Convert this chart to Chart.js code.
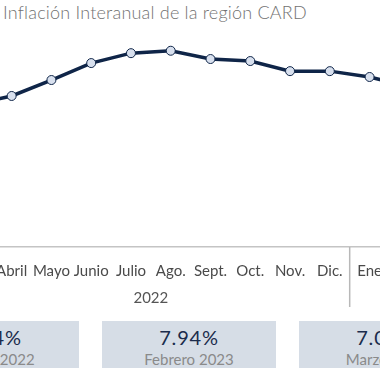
<!DOCTYPE html>
<html>
<head>
<meta charset="utf-8">
<script src="https://cdn.jsdelivr.net/npm/chart.js@4.4.0/dist/chart.umd.min.js"></script>
<style>
    html, body { margin: 0; padding: 0; background: #fff; overflow: hidden; }
    body { width: 380px; height: 380px; position: relative; font-family: 'Lato', sans-serif; }
    #title { position: absolute; left: 3px; top: 1px; font-size: 18px; color: #727272; font-weight: 300; letter-spacing: 0.2px; white-space: nowrap; }
    #wrap { position: absolute; left: -60px; top: 0; width: 560px; height: 320px; }
    .box { position: absolute; top: 321px; height: 47px; width: 174px; background: #d6dde6; text-align: center; }
    .box .val { font-size: 20px; color: #1b2c4c; margin-top: 5px; line-height: 22px; letter-spacing: 0.8px; }
    .box .lbl { font-size: 15px; color: #8a8a8a; line-height: 18px; margin-top: 2px; }
</style>
</head>
<body>
<div id="title">Inflación Interanual de la región CARD</div>
<div id="wrap"><canvas id="chart" width="560" height="320"></canvas></div>
<div id="boxes"></div>
<script>
const months = ['Marzo', 'Abril', 'Mayo', 'Junio', 'Julio', 'Ago.', 'Sept.', 'Oct.', 'Nov.', 'Dic.', 'Ene', 'Feb.', 'Mar.'];
const years = ['2022', '2023'];
const yearCounts = [10, 3];
const inflation = [7.05, 7.48, 8.27, 9.11, 9.6, 9.72, 9.31, 9.21, 8.71, 8.71, 8.42, 7.94, 7.05];

const boxValues = ['9.74%', '7.94%', '7.05%'];
const boxLabels = ['Agosto 2022', 'Febrero 2023', 'Marzo 2023'];
const boxLefts = [-95, 102, 299];

const boxes = document.getElementById('boxes');
boxValues.forEach((v, i) => {
    const d = document.createElement('div');
    d.className = 'box';
    d.style.left = boxLefts[i] + 'px';
    d.innerHTML = '<div class="val">' + v + '</div><div class="lbl">' + boxLabels[i] + '</div>';
    boxes.appendChild(d);
});

// year separators and year labels under the month ticks
const yearPlugin = {
    id: 'yearPlugin',
    afterDraw(chart) {
        const ctx = chart.ctx;
        const x = chart.scales.x;
        const bottom = chart.chartArea.bottom;
        let start = 0;
        ctx.save();
        years.forEach((yr, i) => {
            const end = start + yearCounts[i] - 1;
            const cx = (x.getPixelForValue(start) + x.getPixelForValue(end)) / 2;
            ctx.fillStyle = '#555';
            ctx.font = '15px Lato';
            ctx.textAlign = 'center';
            ctx.textBaseline = 'middle';
            ctx.fillText(yr, cx, bottom + 51);
            if (i > 0) {
                const sx = (x.getPixelForValue(start - 1) + x.getPixelForValue(start)) / 2;
                ctx.strokeStyle = '#b8b8b8';
                ctx.lineWidth = 1.5;
                ctx.beginPath();
                ctx.moveTo(sx, bottom);
                ctx.lineTo(sx, bottom + 60);
                ctx.stroke();
            }
            start += yearCounts[i];
        });
        ctx.restore();
    },
};

const ctx = document.getElementById('chart').getContext('2d');
const chart = new Chart(ctx, {
    type: 'line',
    data: {
        labels: months,
        datasets: [
            {
                data: inflation,
                borderColor: '#0f2548',
                borderWidth: 3.5,
                pointRadius: 4.5,
                pointBackgroundColor: '#d8e0ee',
                pointBorderColor: '#0f2548',
                pointBorderWidth: 1,
                tension: 0,
            },
        ],
    },
    options: {
        responsive: false,
        animation: false,
        layout: {
            padding: { left: 12, right: 31, top: 35, bottom: 0 },
        },
        scales: {
            y: {
                display: false,
                min: 0,
                max: 10.5,
            },
            x: {
                offset: true,
                border: { color: '#c4c4c4', width: 1.5 },
                grid: { display: false },
                ticks: {
                    color: '#4a4a4a',
                    padding: 7,
                    maxRotation: 0,
                    autoSkip: false,
                    font: { family: 'Lato', size: 15 },
                },
                afterFit(scale) {
                    scale.height = 73;
                },
            },
        },
        plugins: {
            legend: { display: false },
            tooltip: { enabled: false },
        },
    },
    plugins: [yearPlugin],
});
</script>
</body>
</html>
